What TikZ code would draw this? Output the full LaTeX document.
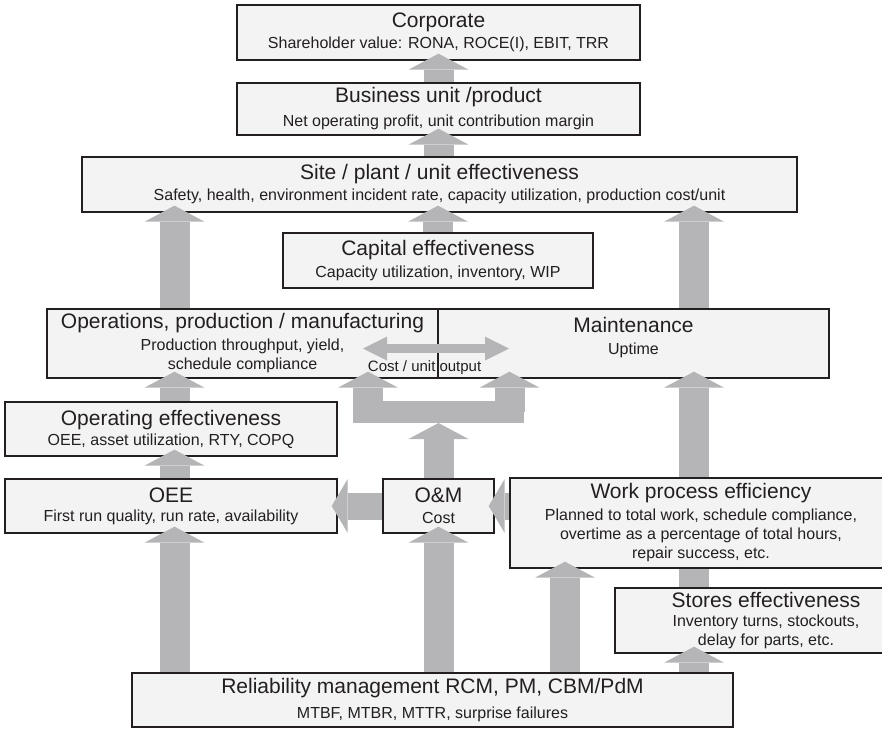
\documentclass[tikz,border=0pt]{standalone}
\usepackage{fontspec}
\setmainfont{Liberation Sans}
\usetikzlibrary{arrows.meta}

\definecolor{boxfill}{RGB}{243,243,243}
\definecolor{boxline}{RGB}{35,31,32}
\definecolor{flowgray}{RGB}{181,181,183}

\newcommand\headfont{\fontsize{21}{24}\selectfont}
\newcommand\bodyfont{\fontsize{16}{19}\selectfont}
\newcommand\notefont{\fontsize{15}{18}\selectfont}

\begin{document}
\begin{tikzpicture}[x=1pt,y=-1pt,
  box/.style={draw=boxline, line width=1.3pt, fill=boxfill, text=boxline,
              align=center, inner sep=0pt, font=\bodyfont},
  flowtip/.style={-{Triangle[length=16pt,width=60pt,line width=0pt]}},
  fat/.style={draw=flowgray, line width=30pt, shorten <=0.7pt, shorten >=-7pt, flowtip},
  fatside/.style={draw=flowgray, line width=27pt, shorten <=0.7pt, shorten >=-6pt,
                  -{Triangle[length=16pt,width=54pt,line width=0pt]}},
  bar/.style={draw=flowgray, line width=30pt, shorten <=0.7pt, shorten >=0.7pt},
  lbl/.style={text=boxline, font=\notefont, inner sep=0pt},
]
\useasboundingbox (0,0) rectangle (882,728);

% ---- boxes ----
\node[box, minimum width=403pt, minimum height=55pt] (corp) at (438.5,32.5)
  {{\headfont Corporate}\\[2pt]Shareholder value: RONA, ROCE(I), EBIT, TRR};
\node[box, minimum width=403pt, minimum height=52pt] (bus) at (438.5,109)
  {{\headfont Business unit /product}\\[5pt]Net operating profit, unit contribution margin};
\node[box, minimum width=715pt, minimum height=55pt] (site) at (439.5,184.5)
  {{\headfont Site / plant / unit effectiveness}\\[2pt]Safety, health, environment incident rate, capacity utilization, production cost/unit};
\node[box, minimum width=310pt, minimum height=55pt] (cap) at (438,260.5)
  {{\headfont Capital effectiveness}\\[3pt]Capacity utilization, inventory, WIP};
\node[box, minimum width=391pt, minimum height=69pt] (ops) at (242.5,343.5)
  {{\headfont Operations, production / manufacturing}\\[3pt]Production throughput, yield,\\schedule compliance};
\node[box, minimum width=391pt, minimum height=69pt, text depth=16pt] (maint) at (633.5,343.5)
  {{\headfont Maintenance}\\[3pt]Uptime};
\node[box, minimum width=332pt, minimum height=54pt] (opeff) at (171,429)
  {{\headfont Operating effectiveness}\\[1pt]OEE, asset utilization, RTY, COPQ};
\node[box, minimum width=332pt, minimum height=54pt] (oee) at (171,506)
  {{\headfont OEE}\\[0pt]First run quality, run rate, availability};
\node[box, minimum width=111pt, minimum height=54pt] (om) at (438.5,506)
  {{\headfont O\&M}\\[2pt]Cost};
\node[box, minimum width=382pt, minimum height=90pt] (work) at (701,523)
  {{\headfont Work process efficiency}\\[3pt]Planned to total work, schedule compliance,\\overtime as a percentage of total hours,\\repair success, etc.};
\node[box, minimum width=302pt, minimum height=65pt] (stores) at (766,620.5)
  {{\headfont Stores effectiveness}\\[0pt]Inventory turns, stockouts,\\delay for parts, etc.};
\node[box, minimum width=601pt, minimum height=54pt] (rel) at (432.5,700)
  {{\headfont Reliability management RCM, PM, CBM/PdM}\\[6pt]MTBF, MTBR, MTTR, surprise failures};

% ---- columns used by the vertical flows ----
\coordinate (colL) at (174.5,0);
\coordinate (colW) at (565,0);
\coordinate (colR) at (694,0);

% ---- upward flows ----
\draw[fat] (bus.north) -- (corp.south);
\draw[fat] (site.north -| bus.south) -- (bus.south);
\draw[fat] (cap.north) -- (cap.north |- site.south);
\draw[fat] (colL |- ops.north) -- (colL |- site.south);
\draw[fat] (colR |- maint.north) -- (colR |- site.south);
\draw[fat] (colL |- opeff.north) -- (colL |- ops.south);
\draw[fat] (colL |- oee.north) -- (colL |- opeff.south);
\draw[fat] (colL |- rel.north) -- (colL |- oee.south);
\draw[fat] (om.south |- rel.north) -- (om.south);
\draw[fat] (colW |- rel.north) -- (colW |- work.south);
\draw[fat] (colR |- rel.north) -- (colR |- stores.south);
\draw[bar] (colR |- stores.north) -- (colR |- work.south);
\draw[fat] (colR |- work.north) -- (colR |- maint.south);

% ---- sideways flows into O&M and OEE ----
\draw[fatside] (om.west) -- (oee.east);
\draw[fatside] (work.west |- om.east) -- (om.east);

% ---- fork from O&M cost to operations and maintenance ----
\coordinate (forkL) at (353,412);
\coordinate (forkR) at (524,412);
\coordinate (forkB) at (438.5,423);
\coordinate (brL) at (368,412);
\coordinate (brR) at (509.5,412);
\draw[flowgray, line width=22pt] (forkL) -- (forkR);
\draw[fat, shorten >=0pt] (om.north) -- (forkB);
\draw[fat, shorten <=0pt] (brL) -- (brL |- ops.south);
\draw[fat, shorten <=0pt] (brR) -- (brR |- maint.south);

% ---- cost per unit output link ----
\coordinate (dblL) at (363,348.5);
\coordinate (dblR) at (509,348.5);
\draw[flowgray, line width=9.5pt,
      {Triangle[length=24pt,width=24pt,line width=0pt]}-{Triangle[length=24pt,width=24pt,line width=0pt]}]
  (dblL) -- (dblR);
\node[lbl, anchor=base east] (costlbl) at ([xshift=-3pt,yshift=7pt]ops.south east) {Cost / unit};
\node[lbl, anchor=base west] (outlbl) at ([xshift=2pt,yshift=7pt]maint.south west) {output};
\end{tikzpicture}
\end{document}
